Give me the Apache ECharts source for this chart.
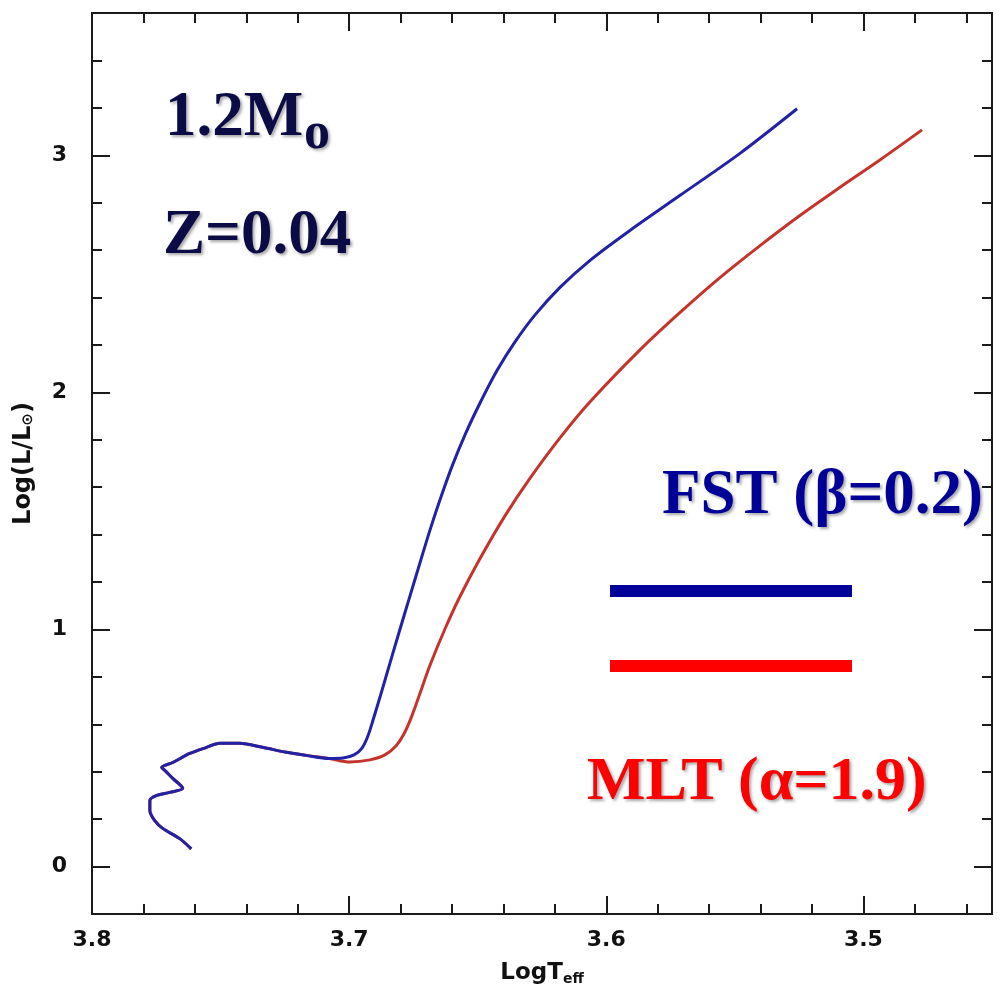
<!DOCTYPE html>
<html><head><meta charset="utf-8">
<script src="https://cdn.jsdelivr.net/npm/echarts@6/dist/echarts.min.js"></script>
<style>html,body{margin:0;padding:0;background:#fff}#c{width:1000px;height:1001px}</style>
</head><body><div id="c"></div>
<script>
// Shared early track (both models coincide)
const trackT = [3.7614, 3.7659, 3.7725, 3.7756, 3.7775, 3.7775, 3.7748, 3.7698, 3.7647, 3.7686, 3.7717, 3.7729, 3.7686, 3.7620, 3.7554, 3.7504, 3.7426, 3.7337, 3.7244, 3.7167, 3.7078];
const trackL = [0.075, 0.118, 0.161, 0.194, 0.237, 0.279, 0.300, 0.313, 0.330, 0.372, 0.406, 0.418, 0.439, 0.477, 0.503, 0.520, 0.520, 0.503, 0.482, 0.469, 0.456];
// FST (beta=0.2) branch
const fstT = [3.7024, 3.6981, 3.6950, 3.6927, 3.6907, 3.6880, 3.6841, 3.6802, 3.6763, 3.6724, 3.6686, 3.6647, 3.6600, 3.6549, 3.6491, 3.6425, 3.6355, 3.6277, 3.6180, 3.6063, 3.5908, 3.5713, 3.5480, 3.5258];
const fstL = [0.458, 0.471, 0.500, 0.551, 0.618, 0.715, 0.859, 1.002, 1.143, 1.283, 1.418, 1.546, 1.688, 1.822, 1.955, 2.092, 2.213, 2.327, 2.443, 2.557, 2.683, 2.831, 3.008, 3.196];
// MLT (alpha=1.9) branch
const mltT = [3.6997, 3.6919, 3.6861, 3.6818, 3.6787, 3.6759, 3.6724, 3.6686, 3.6627, 3.6569, 3.6491, 3.6394, 3.6297, 3.6180, 3.6063, 3.5869, 3.5713, 3.5558, 3.5402, 3.5247, 3.5091, 3.4936, 3.4772];
const mltL = [0.441, 0.450, 0.471, 0.509, 0.559, 0.627, 0.732, 0.848, 1.003, 1.139, 1.299, 1.479, 1.637, 1.808, 1.960, 2.179, 2.337, 2.484, 2.619, 2.746, 2.865, 2.980, 3.107];

const majorX = [3.5, 3.6, 3.7, 3.8];
const minorX = [3.46, 3.48, 3.52, 3.54, 3.56, 3.58, 3.62, 3.64, 3.66, 3.68, 3.72, 3.74, 3.76, 3.78];
const majorY = [0, 1, 2, 3];
const minorY = [0.2, 0.4, 0.6, 0.8, 1.2, 1.4, 1.6, 1.8, 2.2, 2.4, 2.6, 2.8, 3.2, 3.4];

const X_MIN = 3.45, X_MAX = 3.8, Y_MIN = -0.2, Y_MAX = 3.6;

function zip(a, b) { return a.map((v, i) => [v, b[i]]); }
const fstData = zip(trackT, trackL).concat(zip(fstT, fstL));
const mltData = zip(trackT, trackL).concat(zip(mltT, mltL));

const AX = '#1a1a1a';
const labelFont = { fontFamily: 'DejaVu Sans', fontWeight: 'bold', fontSize: 22, color: '#111' };

function xAx(pos, ticks, len, main) {
  return {
    type: 'value', position: pos, inverse: true, min: X_MIN, max: X_MAX,
    axisLine: { show: main, onZero: false, lineStyle: { color: AX, width: 2 } },
    axisTick: { show: true, inside: true, length: len, customValues: ticks, lineStyle: { color: AX, width: 2 } },
    axisLabel: { show: false },
    splitLine: { show: false }
  };
}
function yAx(pos, ticks, len, main) {
  return {
    type: 'value', position: pos, min: Y_MIN, max: Y_MAX,
    axisLine: { show: main, onZero: false, lineStyle: { color: AX, width: 2 } },
    axisTick: { show: true, inside: true, length: len, customValues: ticks, lineStyle: { color: AX, width: 2 } },
    axisLabel: { show: false },
    splitLine: { show: false }
  };
}

const x0 = xAx('bottom', majorX, 18, true);
x0.axisLabel = Object.assign({ show: true, customValues: majorX, margin: 15, formatter: v => v.toFixed(1) }, labelFont);
x0.name = '{a|LogT}{b|eff}';
x0.nameLocation = 'middle';
x0.nameGap = 46;
x0.nameTextStyle = { rich: {
  a: { fontFamily: 'DejaVu Sans', fontWeight: 'bold', fontSize: 23, color: '#111' },
  b: { fontFamily: 'DejaVu Sans', fontWeight: 'bold', fontSize: 14, color: '#111', padding: [12, 0, 0, 0] }
}};

const y0 = yAx('left', majorY, 18, true);
y0.axisLabel = Object.assign({ show: true, customValues: majorY, margin: 25, formatter: v => String(Math.round(v)) }, labelFont);
y0.name = '{a|Log(L/L}{b|⊙}{a|)}';
y0.nameLocation = 'middle';
y0.nameGap = 56;
y0.nameRotate = 90;
y0.nameTextStyle = { rich: {
  a: { fontFamily: 'DejaVu Sans', fontWeight: 'bold', fontSize: 24, color: '#111' },
  b: { fontFamily: 'DejaVu Sans', fontWeight: 'bold', fontSize: 15, color: '#111', padding: [10, 0, 0, 0] }
}};

const shadow = { textShadowColor: 'rgba(0,0,0,0.35)', textShadowBlur: 3, textShadowOffsetX: 2, textShadowOffsetY: 2 };
const serif = 'Liberation Serif';

const option = {
  backgroundColor: '#fff',
  animation: false,
  grid: { left: 92, right: 8, top: 13, bottom: 87, containLabel: false },
  xAxis: [x0, xAx('bottom', minorX, 10, false), xAx('top', majorX, 18, true), xAx('top', minorX, 10, false)],
  yAxis: [y0, yAx('left', minorY, 10, false), yAx('right', majorY, 18, true), yAx('right', minorY, 10, false)],
  series: [
    { name: 'MLT (α=1.9)', type: 'line', xAxisIndex: 0, yAxisIndex: 0, data: mltData, showSymbol: false, smooth: 0.3,
      lineStyle: { color: '#c4342c', width: 3 } },
    { name: 'FST (β=0.2)', type: 'line', xAxisIndex: 0, yAxisIndex: 0, data: fstData, showSymbol: false, smooth: 0.3,
      lineStyle: { color: '#2222a6', width: 3 } }
  ],
  graphic: [
    { type: 'text', left: 165, top: 87, style: Object.assign({ text: '1.2M', font: 'bold 63px ' + serif, fill: '#0b0b45' }, shadow) },
    { type: 'text', left: 304, top: 109, style: Object.assign({ text: 'o', font: 'bold 52px ' + serif, fill: '#0b0b45' }, shadow) },
    { type: 'text', left: 163, top: 205, style: Object.assign({ text: 'Z=0.04', font: 'bold 63px ' + serif, fill: '#0b0b45' }, shadow) },
    { type: 'text', left: 662, top: 465, style: Object.assign({ text: 'FST (β=0.2)', font: 'bold 63px ' + serif, fill: '#000099' }, shadow) },
    { type: 'rect', shape: { x: 610, y: 585, width: 242, height: 12 }, style: { fill: '#000099' } },
    { type: 'rect', shape: { x: 610, y: 660, width: 242, height: 12 }, style: { fill: '#ff0000' } },
    { type: 'text', left: 587, top: 752, style: Object.assign({ text: 'MLT (α=1.9)', font: 'bold 62px ' + serif, fill: '#ff0000' }, shadow) }
  ]
};
const chart = echarts.init(document.getElementById('c'), null, { renderer: 'canvas' });
chart.setOption(option);
</script></body></html>
